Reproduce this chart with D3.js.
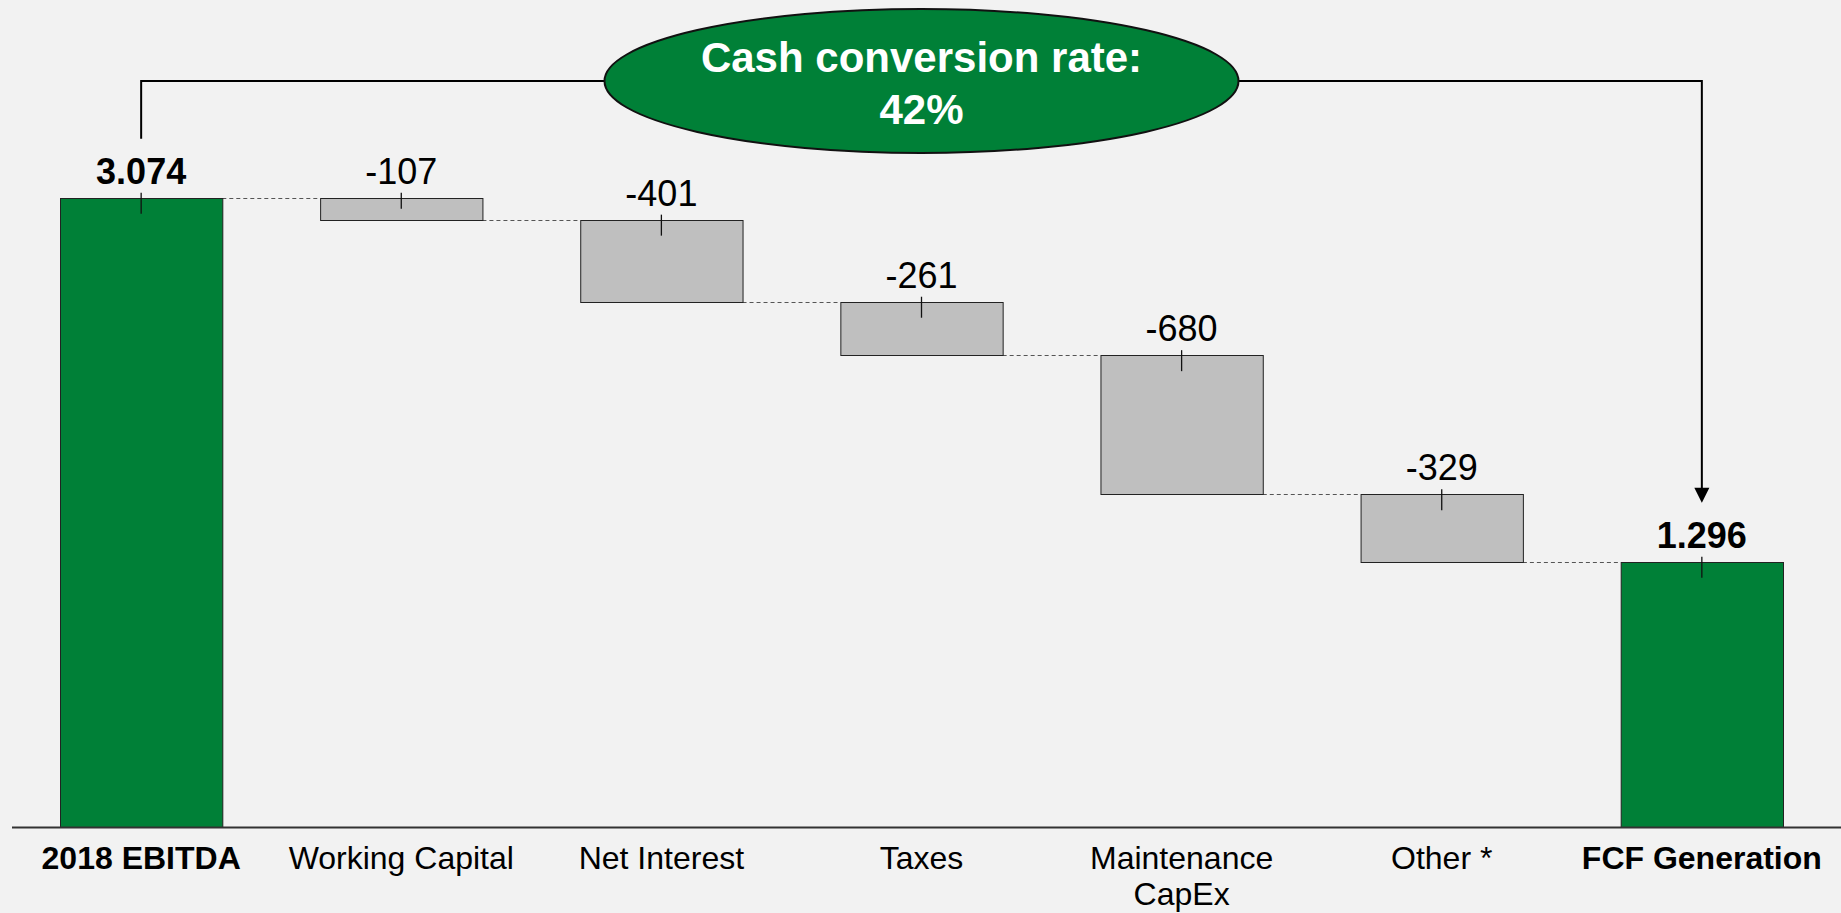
<!DOCTYPE html>
<html>
<head>
<meta charset="utf-8">
<script src="https://cdn.jsdelivr.net/npm/d3@7"></script>
<style>
  html, body { margin: 0; padding: 0; background: #f2f2f2; }
  svg { display: block; font-family: "Liberation Sans", Arial, Helvetica, sans-serif; }
</style>
</head>
<body>
<svg id="chart" width="1841" height="913"></svg>
<script>
// FCF bridge: 2018 EBITDA down to free cash flow generation
const categories = ["2018 EBITDA", "Working Capital", "Net Interest", "Taxes", "Maintenance CapEx", "Other *", "FCF Generation"];
const tickLabels = [["2018 EBITDA"], ["Working Capital"], ["Net Interest"], ["Taxes"], ["Maintenance", "CapEx"], ["Other *"], ["FCF Generation"]];
const values = [3074, -107, -401, -261, -680, -329, 1296];
const kinds = ["total", "delta", "delta", "delta", "delta", "delta", "total"];
const calloutTitle = "Cash conversion rate:";

const W = 1841, H = 913;
const svg = d3.select("#chart");

const GREEN = "#008037", GREY = "#bfbfbf";

svg.append("rect").attr("width", W).attr("height", H).attr("fill", "#f2f2f2");

// running totals -> floating segments
let run = 0;
const bars = categories.map((c, i) => {
  let lo, hi;
  if (kinds[i] === "total") { lo = 0; hi = values[i]; run = values[i]; }
  else { hi = run; run = run + values[i]; lo = run; }
  return { cat: c, i, value: values[i], kind: kinds[i], lo, hi, end: run };
});

const x = d3.scaleBand().domain(categories).range([60, 1783]).paddingInner(0.376).paddingOuter(0);
const y = d3.scaleLinear().domain([0, 4040]).range([827, 0]);

// German-style grouping for totals, plain hyphen for negatives
const locale = d3.formatLocale({ decimal: ",", thousands: ".", grouping: [3], currency: ["", ""], minus: "-" });
const fmt = locale.format(",d");
const fmtDelta = locale.format("d");

// dashed connectors between consecutive bars
const conn = svg.append("g");
bars.slice(0, -1).forEach((b, i) => {
  const yy = Math.round(y(b.end)) + 0.5;
  conn.append("line")
    .attr("x1", x(b.cat) + x.bandwidth()).attr("x2", x(bars[i + 1].cat))
    .attr("y1", yy).attr("y2", yy)
    .attr("stroke", "#555").attr("stroke-width", 1).attr("stroke-dasharray", "4,3");
});

// bars
svg.append("g").selectAll("rect").data(bars).join("rect")
  .attr("x", d => x(d.cat) + 0.5)
  .attr("y", d => Math.round(y(d.hi)) + 0.5)
  .attr("width", x.bandwidth())
  .attr("height", d => Math.round(y(d.lo)) - Math.round(y(d.hi)))
  .attr("fill", d => d.kind === "total" ? GREEN : GREY)
  .attr("stroke", "#222").attr("stroke-width", 1);

// small leader ticks at each bar top
svg.append("g").selectAll("line").data(bars).join("line")
  .attr("x1", d => x(d.cat) + x.bandwidth() / 2).attr("x2", d => x(d.cat) + x.bandwidth() / 2)
  .attr("y1", d => y(d.hi) - 5)
  .attr("y2", d => y(d.hi) + Math.min(16, (y(d.lo) - y(d.hi)) * 0.5))
  .attr("stroke", "#111").attr("stroke-width", 1.3);

// value labels
svg.append("g").selectAll("text").data(bars).join("text")
  .attr("x", d => x(d.cat) + x.bandwidth() / 2)
  .attr("y", d => y(d.hi) - 14)
  .attr("text-anchor", "middle")
  .attr("font-size", 36)
  .attr("font-weight", d => d.kind === "total" ? "bold" : "normal")
  .attr("fill", "#000")
  .text(d => d.kind === "total" ? fmt(d.value) : fmtDelta(d.value));

// baseline
svg.append("line").attr("x1", 12).attr("x2", W).attr("y1", y(0) + 0.5).attr("y2", y(0) + 0.5)
  .attr("stroke", "#333").attr("stroke-width", 2);

// category labels
const cl = svg.append("g").selectAll("text").data(bars).join("text")
  .attr("x", d => x(d.cat) + x.bandwidth() / 2)
  .attr("y", y(0) + 42)
  .attr("text-anchor", "middle")
  .attr("font-size", 32)
  .attr("font-weight", d => d.kind === "total" ? "bold" : "normal")
  .attr("fill", "#000");
cl.selectAll("tspan").data(d => tickLabels[d.i].map(t => ({ t, x: x(d.cat) + x.bandwidth() / 2 })))
  .join("tspan")
  .attr("x", d => d.x)
  .attr("dy", (d, k) => k === 0 ? 0 : 36)
  .text(d => d.t);

// conversion callout with bracket arrow
const first = bars[0], last = bars[bars.length - 1];
const xA = x(first.cat) + x.bandwidth() / 2;
const xB = x(last.cat) + x.bandwidth() / 2;
const yBracket = 81;
const cx = (xA + xB) / 2, rx = 317, ry = 72;
const yStartA = y(first.hi) - 14 - 26 - 19;
const yTipB = y(last.hi) - 14 - 26 - 19;

svg.append("path")
  .attr("d", `M${xA},${yStartA} V${yBracket} H${cx - rx}`)
  .attr("fill", "none").attr("stroke", "#000").attr("stroke-width", 2);
svg.append("path")
  .attr("d", `M${cx + rx},${yBracket} H${xB} V${yTipB - 14}`)
  .attr("fill", "none").attr("stroke", "#000").attr("stroke-width", 2);
svg.append("path")
  .attr("d", `M${xB - 7.5},${yTipB - 15} L${xB + 7.5},${yTipB - 15} L${xB},${yTipB} Z`)
  .attr("fill", "#000");

svg.append("ellipse")
  .attr("cx", cx).attr("cy", yBracket).attr("rx", rx).attr("ry", ry)
  .attr("fill", GREEN).attr("stroke", "#111").attr("stroke-width", 2);

const rate = Math.round(last.value / first.value * 100);
const callout = svg.append("text")
  .attr("text-anchor", "middle").attr("font-size", 42).attr("font-weight", "bold").attr("fill", "#fff");
callout.append("tspan").attr("x", cx).attr("y", 72).text(calloutTitle);
callout.append("tspan").attr("x", cx).attr("y", 124).text(rate + "%");
</script>
</body>
</html>
